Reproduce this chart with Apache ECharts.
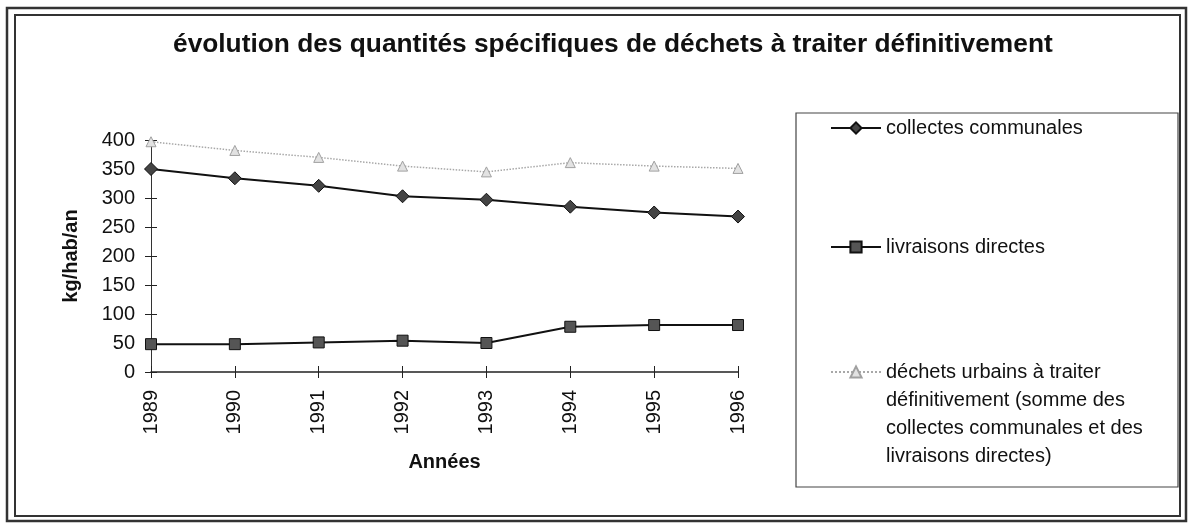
<!DOCTYPE html>
<html>
<head>
<meta charset="utf-8">
<script src="https://cdn.jsdelivr.net/npm/echarts@6/dist/echarts.min.js"></script>
<style>
  html, body { margin: 0; padding: 0; background: #fff; }
  #chart { width: 1190px; height: 524px; }
</style>
</head>
<body>
<div id="chart"></div>
<script>
const years = ['1989', '1990', '1991', '1992', '1993', '1994', '1995', '1996'];
const collectes = [350, 334, 321, 303, 297, 285, 275, 268];
const livraisons = [48, 48, 51, 54, 50, 78, 81, 81];
const totalDechets = [397, 382, 370, 355, 345, 361, 355, 351];

const nameCollectes = 'collectes communales';
const nameLivraisons = 'livraisons directes';
const nameTotal = 'déchets urbains à traiter définitivement (somme des collectes communales et des livraisons directes)';
const totalLines = ['déchets urbains à traiter', 'définitivement (somme des', 'collectes communales et des', 'livraisons directes)'];

const FONT = '"Liberation Sans", Arial, sans-serif';
const chart = echarts.init(document.getElementById('chart'), null, { renderer: 'canvas' });

const legendText = { fontFamily: FONT, fontSize: 20, color: '#111', lineHeight: 28 };

function mkLegend(name, top, formatter) {
  const l = {
    data: [name],
    orient: 'vertical',
    left: 825,
    top: top,
    itemWidth: 50,
    itemHeight: 14,
    itemGap: 0,
    selectedMode: false,
    textStyle: legendText
  };
  if (formatter) l.formatter = formatter;
  return l;
}

chart.setOption({
  animation: false,
  backgroundColor: '#ffffff',
  title: {
    text: 'évolution des quantités spécifiques de déchets à traiter définitivement',
    left: 168,
    top: 27,
    textStyle: { fontFamily: FONT, fontSize: 26.3, fontWeight: 'bold', color: '#111' }
  },
  legend: [
    mkLegend(nameCollectes, 109),
    mkLegend(nameLivraisons, 228),
    mkLegend(nameTotal, 269, function () { return '\n\n\n' + totalLines.join('\n'); })
  ],
  grid: { left: 151, right: 452, top: 140, bottom: 152, containLabel: false },
  xAxis: [{
    type: 'category',
    data: years,
    boundaryGap: false,
    position: 'bottom',
    name: 'Années',
    nameLocation: 'middle',
    nameGap: 80,
    nameTextStyle: { fontFamily: FONT, fontSize: 20, fontWeight: 'bold', color: '#111' },
    axisLine: { lineStyle: { color: '#222', width: 1.5 } },
    axisTick: { show: true, length: 6, alignWithLabel: true, lineStyle: { color: '#222' } },
    axisLabel: { rotate: 90, margin: 18, fontFamily: FONT, fontSize: 20, color: '#111' },
    splitLine: { show: false }
  }, {
    type: 'category',
    data: years,
    boundaryGap: false,
    position: 'bottom',
    axisLine: { show: false },
    axisTick: { show: true, inside: true, length: 6, lineStyle: { color: '#222' } },
    axisLabel: { show: false },
    splitLine: { show: false }
  }],
  yAxis: [{
    type: 'value',
    min: 0, max: 400, interval: 50,
    position: 'left',
    name: 'kg/hab/an',
    nameLocation: 'middle',
    nameGap: 70,
    nameRotate: 90,
    nameTextStyle: { fontFamily: FONT, fontSize: 20, fontWeight: 'bold', color: '#111' },
    axisLine: { show: true, lineStyle: { color: '#333', width: 1 } },
    axisTick: { show: true, length: 6, lineStyle: { color: '#222' } },
    axisLabel: { margin: 16, fontFamily: FONT, fontSize: 20, color: '#111' },
    splitLine: { show: false }
  }, {
    type: 'value',
    min: 0, max: 400, interval: 50,
    position: 'left',
    axisLine: { show: false },
    axisTick: { show: true, inside: true, length: 6, lineStyle: { color: '#222' } },
    axisLabel: { show: false },
    splitLine: { show: false }
  }],
  series: [{
    name: nameCollectes,
    type: 'line',
    data: collectes,
    symbol: 'diamond',
    symbolSize: 13,
    lineStyle: { color: '#111', width: 2 },
    itemStyle: { color: '#444', borderColor: '#111', borderWidth: 1 }
  }, {
    name: nameLivraisons,
    type: 'line',
    data: livraisons,
    symbol: 'rect',
    symbolSize: 11,
    lineStyle: { color: '#111', width: 2 },
    itemStyle: { color: '#555', borderColor: '#111', borderWidth: 1 }
  }, {
    name: nameTotal,
    type: 'line',
    data: totalDechets,
    symbol: 'triangle',
    symbolSize: 10,
    lineStyle: { color: '#a8a8a8', width: 1.5, type: 'dotted' },
    itemStyle: { color: '#e2e2e2', borderColor: '#a0a0a0', borderWidth: 1 }
  }],
  graphic: [
    { type: 'rect', silent: true, z: -1, shape: { x: 7, y: 8, width: 1179, height: 513 },
      style: { fill: 'none', stroke: '#333', lineWidth: 2.5 } },
    { type: 'rect', silent: true, z: -1, shape: { x: 15, y: 15, width: 1165, height: 501 },
      style: { fill: 'none', stroke: '#333', lineWidth: 2 } },
    { type: 'rect', silent: true, z: -1, shape: { x: 796, y: 113, width: 382, height: 374 },
      style: { fill: 'none', stroke: '#444', lineWidth: 1.2 } }
  ]
});
</script>
</body>
</html>
